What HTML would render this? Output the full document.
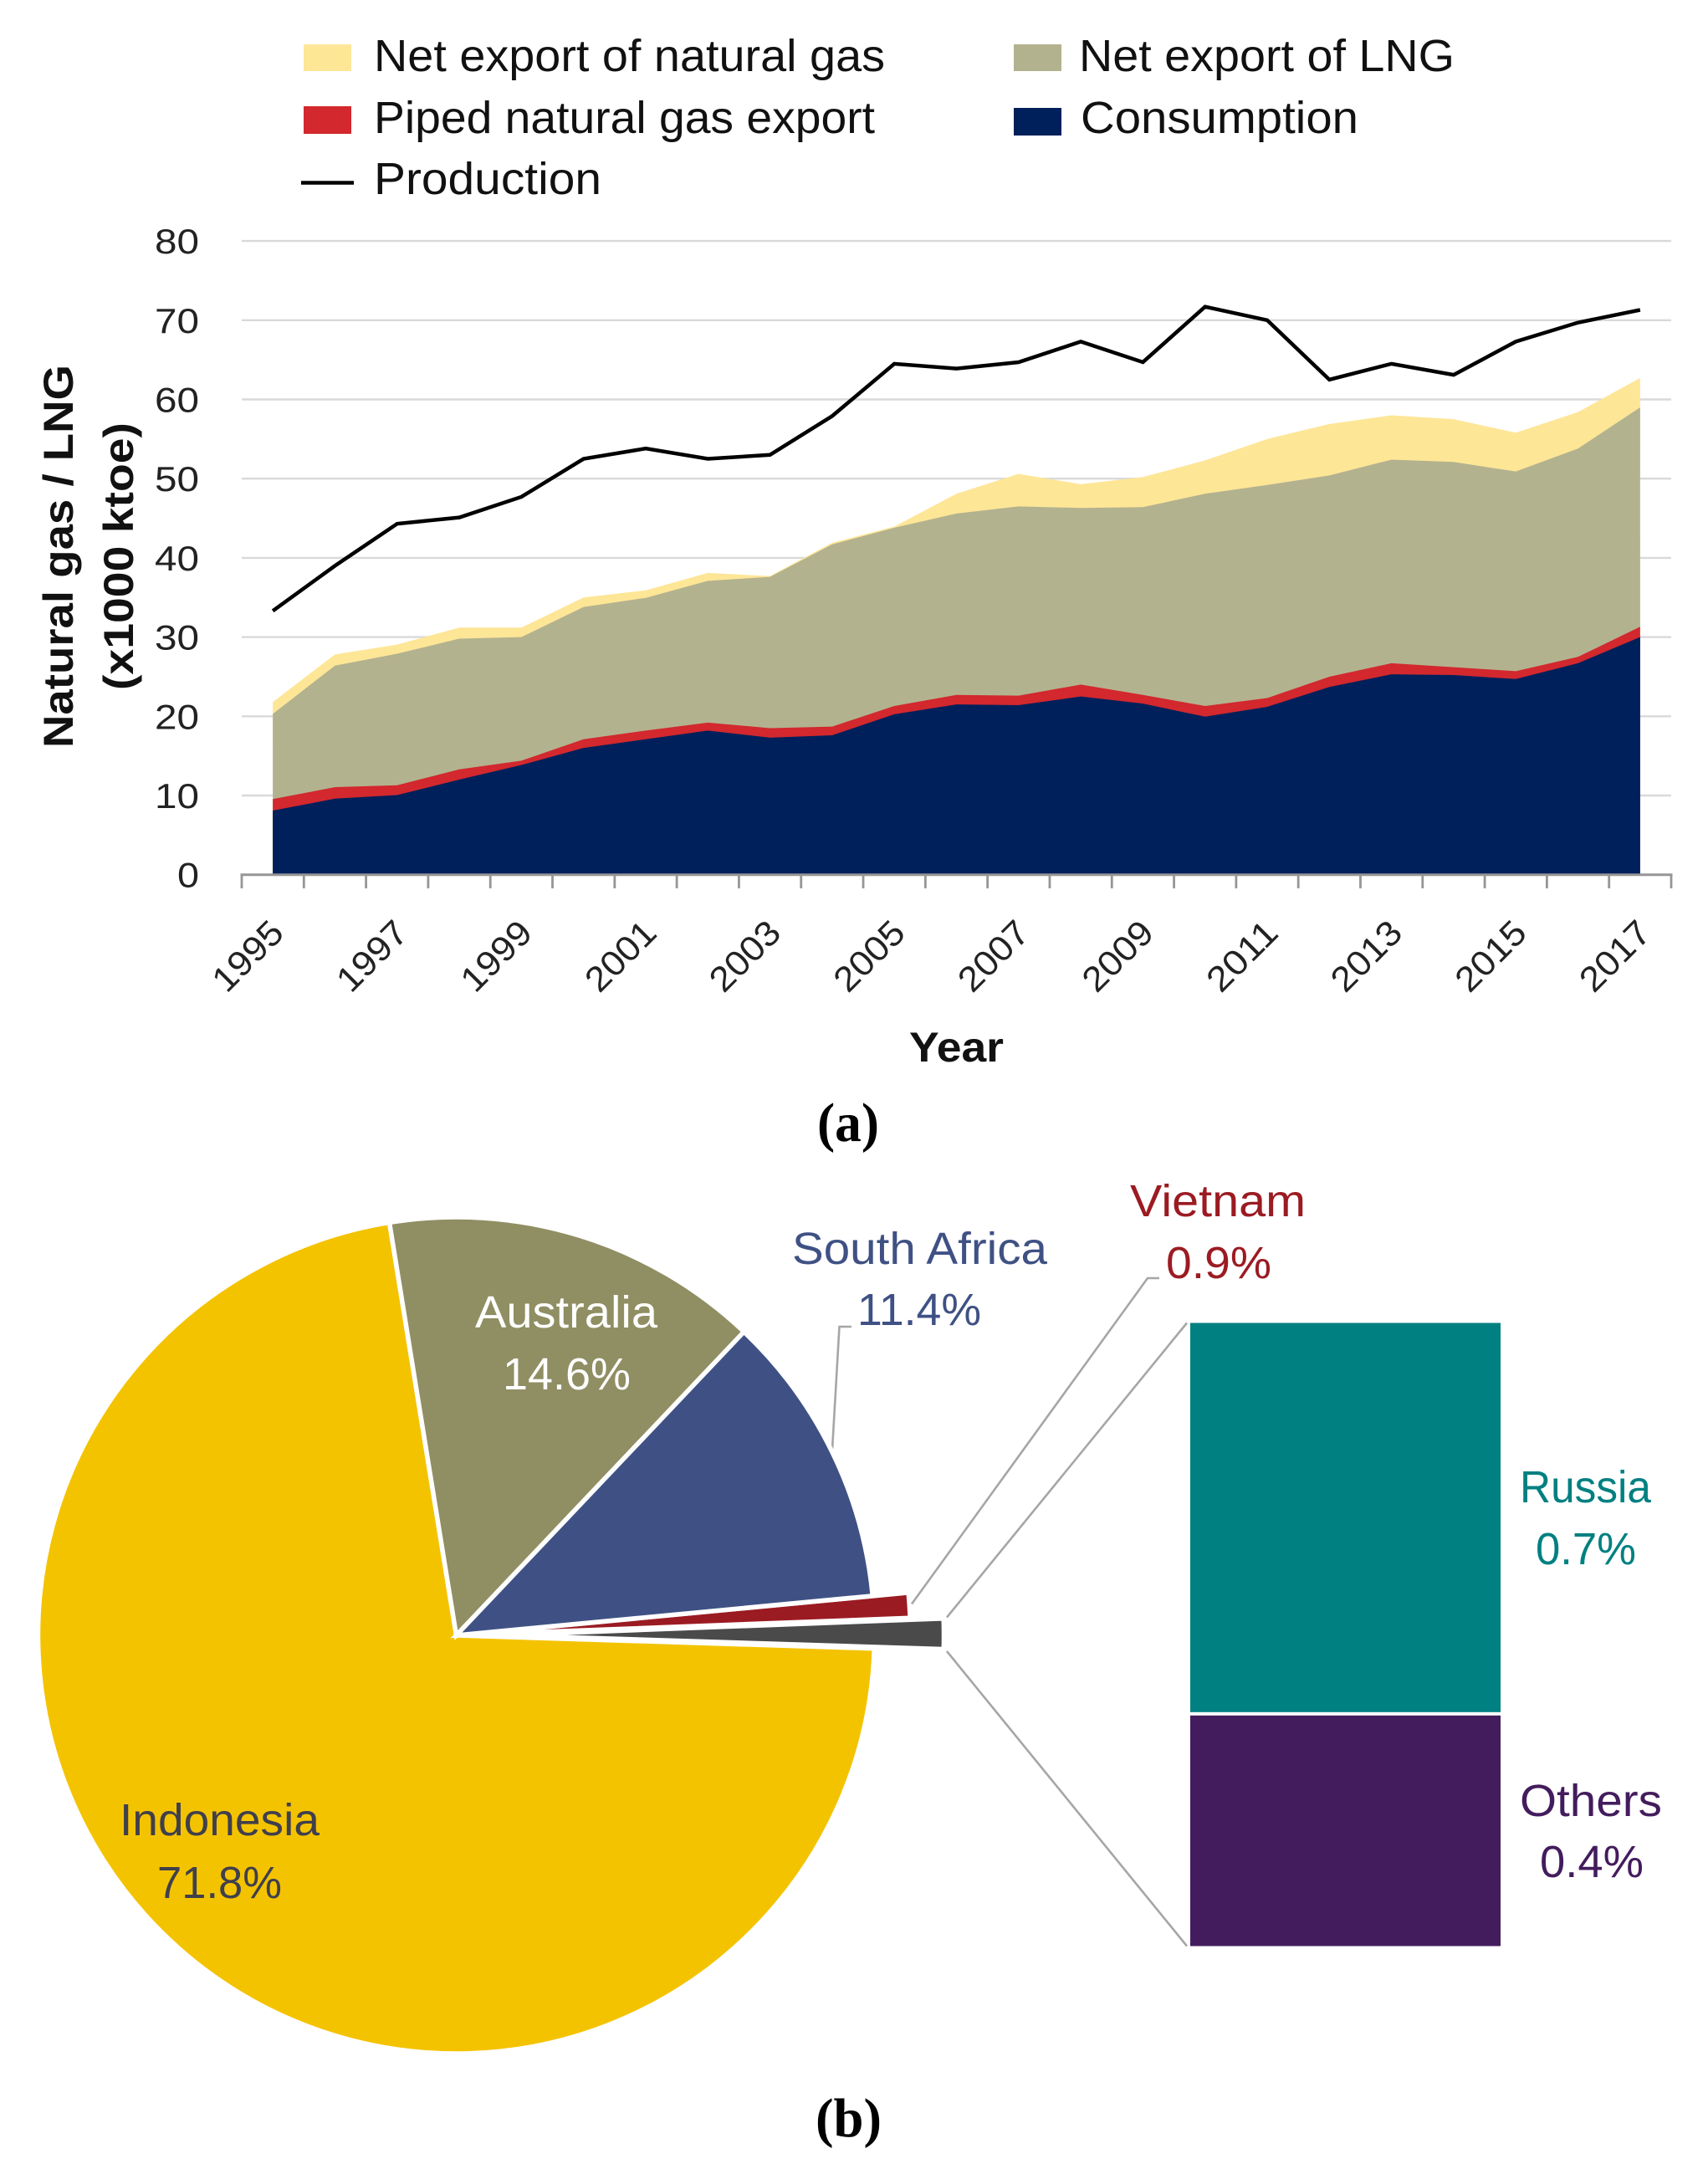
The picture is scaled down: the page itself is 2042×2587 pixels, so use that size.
<!DOCTYPE html>
<html lang="en">
<head>
<meta charset="utf-8">
<title>Natural gas and LNG charts</title>
<style>
html,body{margin:0;padding:0;background:#fff;}
svg{display:block;}
text{font-family:"Liberation Sans",sans-serif;}
</style>
</head>
<body>
<svg id="figure" xmlns="http://www.w3.org/2000/svg" width="2042" height="2587" viewBox="0 0 2042 2587">
  <rect x="0" y="0" width="2042" height="2587" fill="#ffffff"/>

  <g id="chart-a">
    <g id="grid"></g>
    <g id="areas"></g>
    <g id="line"></g>
    <g id="axes"></g>
  </g>

  <g font-size="54" fill="#111111">
    <g>
      <rect x="363" y="53" width="57" height="32" fill="#FEE697"/>
      <text x="447" y="85" textLength="611" lengthAdjust="spacingAndGlyphs">Net export of natural gas</text>
    </g>
    <g>
      <rect x="1212" y="53" width="57" height="32" fill="#B3B28F"/>
      <text x="1290" y="85" textLength="449" lengthAdjust="spacingAndGlyphs">Net export of LNG</text>
    </g>
    <g>
      <rect x="363" y="127" width="57" height="33" fill="#D2282E"/>
      <text x="447" y="159" textLength="599" lengthAdjust="spacingAndGlyphs">Piped natural gas export</text>
    </g>
    <g>
      <rect x="1212" y="129" width="57" height="33" fill="#00205B"/>
      <text x="1292" y="159" textLength="332" lengthAdjust="spacingAndGlyphs">Consumption</text>
    </g>
    <g>
      <line x1="360" y1="218.5" x2="423" y2="218.5" stroke="#000000" stroke-width="4.5"/>
      <text x="447" y="232" textLength="272" lengthAdjust="spacingAndGlyphs">Production</text>
    </g>
  </g>

  <text transform="translate(87,665) rotate(-90)" text-anchor="middle" font-size="50" font-weight="700" fill="#111111" textLength="458" lengthAdjust="spacingAndGlyphs">Natural gas / LNG</text>
  <text transform="translate(159,665) rotate(-90)" text-anchor="middle" font-size="50" font-weight="700" fill="#111111" textLength="320" lengthAdjust="spacingAndGlyphs">(x1000 ktoe)</text>
  <text x="1087" y="1269" font-size="50" font-weight="700" fill="#111111" textLength="113" lengthAdjust="spacingAndGlyphs">Year</text>

  <text x="977" y="1364" font-size="66" font-weight="700" fill="#000000" style="font-family:'Liberation Serif',serif" textLength="74" lengthAdjust="spacingAndGlyphs">(a)</text>
  <text x="975" y="2554" font-size="66" font-weight="700" fill="#000000" style="font-family:'Liberation Serif',serif" textLength="79" lengthAdjust="spacingAndGlyphs">(b)</text>

  <g id="chart-b">
    <g id="leaders" fill="none" stroke="#A6A6A6" stroke-width="2.6">
      <polyline points="995,1733 1003.5,1586 1018,1586"/>
      <polyline points="1090,1917.5 1372,1528 1386,1528"/>
      <line x1="1132" y1="1933.5" x2="1419" y2="1581.5"/>
      <line x1="1132" y1="1974" x2="1419" y2="2326.5"/>
    </g>
    <g id="slices"></g>
    <g id="stack"></g>
  </g>

  <g font-size="54">
    <text x="568" y="1587" fill="#ffffff" textLength="218" lengthAdjust="spacingAndGlyphs">Australia</text>
    <text x="601" y="1661" fill="#ffffff" textLength="153" lengthAdjust="spacingAndGlyphs">14.6%</text>
    <text x="143" y="2194" fill="#403F4C" textLength="239" lengthAdjust="spacingAndGlyphs">Indonesia</text>
    <text x="188" y="2269" fill="#403F4C" textLength="149" lengthAdjust="spacingAndGlyphs">71.8%</text>
    <text x="947" y="1511" fill="#3F5184" textLength="305" lengthAdjust="spacingAndGlyphs">South Africa</text>
    <text x="1025" y="1584" fill="#3F5184" textLength="148" lengthAdjust="spacingAndGlyphs">11.4%</text>
    <text x="1351" y="1454" fill="#9B1B22" textLength="210" lengthAdjust="spacingAndGlyphs">Vietnam</text>
    <text x="1394" y="1528" fill="#9B1B22" textLength="126" lengthAdjust="spacingAndGlyphs">0.9%</text>
    <text x="1817" y="1796" fill="#008081" textLength="157" lengthAdjust="spacingAndGlyphs">Russia</text>
    <text x="1836" y="1870" fill="#008081" textLength="120" lengthAdjust="spacingAndGlyphs">0.7%</text>
    <text x="1817" y="2171" fill="#431C5D" textLength="170" lengthAdjust="spacingAndGlyphs">Others</text>
    <text x="1841" y="2244" fill="#431C5D" textLength="124" lengthAdjust="spacingAndGlyphs">0.4%</text>
  </g>
</svg>

<script>
// ----- chart (a) data -----
const years = [1995,1996,1997,1998,1999,2000,2001,2002,2003,2004,2005,2006,2007,2008,2009,2010,2011,2012,2013,2014,2015,2016,2017];
const consumption = [8.1,9.6,10.05,12.0,13.85,16.0,17.1,18.2,17.3,17.6,20.25,21.5,21.4,22.5,21.6,19.95,21.2,23.7,25.3,25.2,24.7,26.7,30.0];
const pipedExport = [1.45,1.45,1.25,1.3,0.55,1.1,1.1,1.0,1.2,1.1,1.05,1.2,1.2,1.5,1.1,1.35,1.1,1.3,1.4,1.0,1.0,0.8,1.3];
const netLng = [10.75,15.35,16.6,16.5,15.6,16.7,16.75,17.9,19.1,23.0,22.5,22.9,23.9,22.3,23.7,26.8,26.9,25.4,25.7,25.9,25.2,26.3,27.7];
const netGas = [1.5,1.4,1.15,1.4,1.2,1.2,0.95,1.0,0.1,0.2,0.15,2.5,4.1,3.0,3.8,4.2,5.8,6.5,5.6,5.4,4.9,4.6,3.7];
const production = [33.3,39.0,44.3,45.1,47.7,52.5,53.8,52.5,53.0,57.9,64.5,63.9,64.7,67.3,64.7,71.7,70.0,62.5,64.5,63.1,67.3,69.7,71.3];
const yTicks = [0,10,20,30,40,50,60,70,80];

// ----- chart (b) data -----
const pieNames = ['indonesia','australia','south-africa','vietnam','russia-and-others'];
const pieShares = [71.8,14.6,11.4,0.9,1.1];
const stackNames = ['russia','others'];
const stackShares = [0.69,0.41];

const NS = 'http://www.w3.org/2000/svg';
function mk(parent, tag, attrs, text) {
  const el = document.createElementNS(NS, tag);
  for (const k in attrs) el.setAttribute(k, attrs[k]);
  if (text !== undefined) el.textContent = text;
  parent.appendChild(el);
  return el;
}

// axis functions
const plotLeft = 289, plotRight = 1998, plotBase = 1045.7, unitPx = 9.47;
const step = (plotRight - plotLeft) / years.length;
function xAt(i) { return plotLeft + (i + 0.5) * step; }
function yAt(v) { return plotBase - v * unitPx; }

const gridG = document.getElementById('grid');
const axesG = document.getElementById('axes');
const areasG = document.getElementById('areas');
const lineG = document.getElementById('line');

yTicks.forEach(function (t) {
  if (t > 0) {
    const g = mk(gridG, 'line', {x1: plotLeft, x2: plotRight, y1: yAt(t), y2: yAt(t), stroke: '#D9D9D9', 'stroke-width': 2.4});
    
    
  }
  const lab = mk(axesG, 'text', {x: 238, y: yAt(t) + 15, 'text-anchor': 'end', 'font-size': 42, fill: '#222222', textLength: t === 0 ? 26 : 53, lengthAdjust: 'spacingAndGlyphs'}, String(t));
  
  
});

// cumulative stack tops, drawn back to front so bands share no seams
const bands = [
  {name: 'net-export-natural-gas-area', fill: '#FEE697', parts: [consumption, pipedExport, netLng, netGas]},
  {name: 'net-export-lng-area', fill: '#B3B28F', parts: [consumption, pipedExport, netLng]},
  {name: 'piped-natural-gas-export-area', fill: '#D2282E', parts: [consumption, pipedExport]},
  {name: 'consumption-area', fill: '#00205B', parts: [consumption]}
];
bands.forEach(function (b) {
  let d = 'M' + xAt(0) + ' ' + yAt(0);
  years.forEach(function (_, i) {
    let top = 0;
    b.parts.forEach(function (p) { top += p[i]; });
    d += 'L' + xAt(i).toFixed(2) + ' ' + yAt(top).toFixed(2);
  });
  d += 'L' + xAt(years.length - 1) + ' ' + yAt(0) + 'Z';
  const a = mk(areasG, 'path', {d: d, fill: b.fill});
  
  
});

const prodLine = mk(lineG, 'polyline', {
  points: production.map(function (v, i) { return xAt(i).toFixed(2) + ',' + yAt(v).toFixed(2); }).join(' '),
  fill: 'none', stroke: '#000000', 'stroke-width': 4.5, 'stroke-linejoin': 'miter'
});



const xAxis = mk(axesG, 'line', {x1: plotLeft - 1.5, x2: plotRight + 1.5, y1: plotBase, y2: plotBase, stroke: '#969696', 'stroke-width': 3});



for (let i = 0; i <= years.length; i++) {
  const tx = plotLeft + i * step;
  const tick = mk(axesG, 'line', {x1: tx, x2: tx, y1: plotBase, y2: 1062, stroke: '#969696', 'stroke-width': 2.8});
  
  
}
years.forEach(function (yr, i) {
  if (i % 2 === 0) {
    const cx = xAt(i) - 20, cy = 1153;
    const lab = mk(axesG, 'text', {transform: 'translate(' + cx.toFixed(1) + ',' + cy + ') rotate(-45)', 'text-anchor': 'middle', 'font-size': 42, fill: '#222222', textLength: 100, lengthAdjust: 'spacingAndGlyphs'}, String(yr));
    
    
  }
});

// ----- pie -----
const pieCx = 545.5, pieCy = 1955, pieR = 500, startDeg = 91.8;
const pieFills = ['#F4C300','#908E63','#3F5184','#9B1B22','#4A4A4A'];
const pieExplode = [0,0,0,42,82];
const pieStroke = [5.5,5.5,5.5,3.5,3.5];
const pieDrawOrder = [4,3,0,1,2];
const pieTotal = pieShares.reduce(function (a, b) { return a + b; }, 0);
function polar(cx, cy, r, deg) {
  const t = deg * Math.PI / 180;
  return [cx + r * Math.sin(t), cy - r * Math.cos(t)];
}
const pieStarts = [];
let acc = startDeg;
pieShares.forEach(function (s) { pieStarts.push(acc); acc += s / pieTotal * 360; });
const slicesG = document.getElementById('slices');
pieDrawOrder.forEach(function (i) {
  const a0 = pieStarts[i], a1 = a0 + pieShares[i] / pieTotal * 360, mid = (a0 + a1) / 2;
  const c = polar(pieCx, pieCy, pieExplode[i], mid);
  const p0 = polar(c[0], c[1], pieR, a0), p1 = polar(c[0], c[1], pieR, a1);
  const large = (a1 - a0) > 180 ? 1 : 0;
  const d = 'M' + c[0].toFixed(2) + ' ' + c[1].toFixed(2) + 'L' + p0[0].toFixed(2) + ' ' + p0[1].toFixed(2) +
            'A' + pieR + ' ' + pieR + ' 0 ' + large + ' 1 ' + p1[0].toFixed(2) + ' ' + p1[1].toFixed(2) + 'Z';
  const sl = mk(slicesG, 'path', {d: d, fill: pieFills[i], stroke: '#ffffff', 'stroke-width': pieStroke[i], 'stroke-linejoin': 'miter'});
  
  
});

// ----- stacked bar of others -----
const stackG = document.getElementById('stack');
const stackLeft = 1423, stackWidth = 371, stackTop = 1581.5, stackHeight = 745, stackGap = 4;
const stackFills = ['#008081','#431C5D'];
const stackTotal = stackShares.reduce(function (a, b) { return a + b; }, 0);
let used = 0;
stackShares.forEach(function (s, i) {
  const y0 = stackTop + used / stackTotal * stackHeight;
  const h = s / stackTotal * stackHeight;
  used += s;
  const top = i > 0 ? y0 + stackGap / 2 : y0;
  const bottom = i < stackShares.length - 1 ? y0 + h - stackGap / 2 : y0 + h;
  const r = mk(stackG, 'rect', {x: stackLeft, y: top, width: stackWidth, height: bottom - top, fill: stackFills[i]});
  
  
});
</script>
</body>
</html>
